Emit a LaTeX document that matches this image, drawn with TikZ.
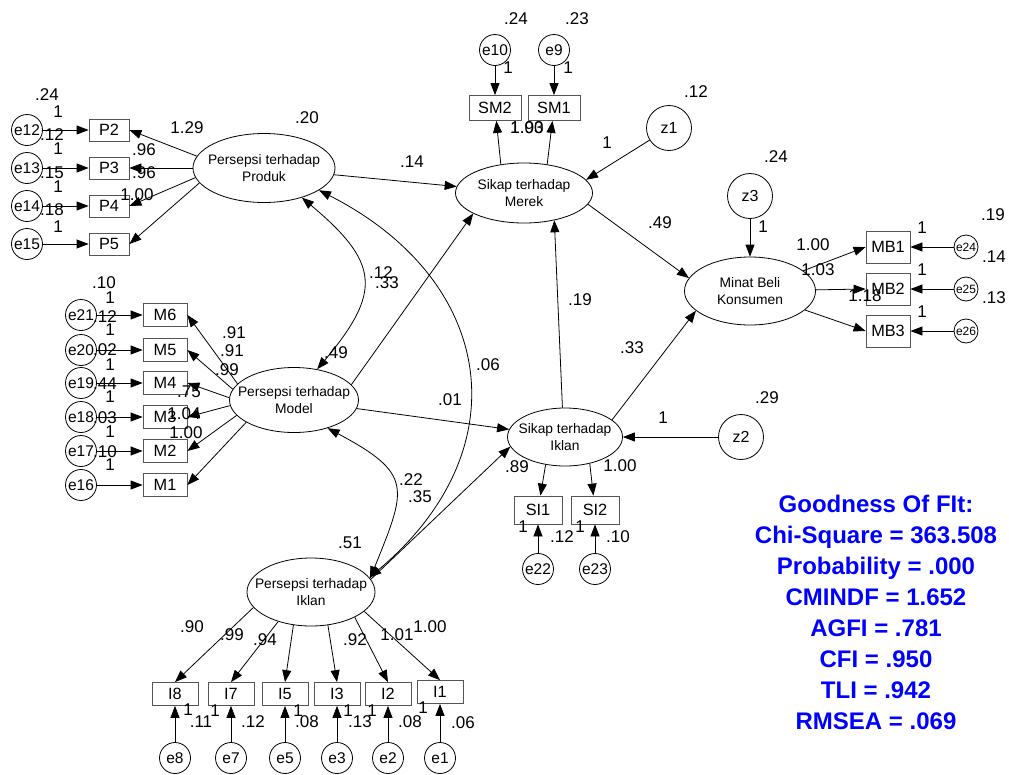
\documentclass[tikz,border=0pt]{standalone}
\usepackage{fontspec}
\setmainfont{Liberation Sans}
\usetikzlibrary{arrows.meta,shapes.geometric}
\definecolor{fitblue}{HTML}{0000FF}
\definecolor{boxgray}{HTML}{555555}
\newcommand{\latname}[2]{\makebox[0pt]{#1}\\\makebox[0pt]{#2}}
\tikzset{
  latent/.style={ellipse,draw,line width=0.8pt,inner sep=0pt,align=center,font=\fontsize{13.8}{17.5}\selectfont},
  indicator/.style={rectangle,draw=boxgray,line width=0.8pt,inner sep=0pt,font=\fontsize{16.3}{18}\selectfont},
  errnode/.style={circle,draw,line width=0.8pt,inner sep=0pt,minimum size=31pt,font=\fontsize{15.5}{17}\selectfont},
  smallerr/.style={errnode,minimum size=24pt,font=\fontsize{12}{14}\selectfont},
  distnode/.style={circle,draw,line width=0.8pt,inner sep=0pt,minimum size=45pt,font=\fontsize{16}{18}\selectfont},
  coef/.style={inner sep=0pt,font=\fontsize{17}{19}\selectfont},
  regpath/.style={-{Triangle[length=12pt,width=9pt]},line width=0.8pt},
  covpath/.style={{Triangle[length=12pt,width=9pt]}-{Triangle[length=12pt,width=9pt]},line width=0.8pt},
  fitline/.style={inner sep=0pt,anchor=base,text=fitblue,font=\fontsize{24}{28}\selectfont\bfseries}
}

\begin{document}
\begin{tikzpicture}[x=1pt,y=-1pt]
  \useasboundingbox (0,0) rectangle (1009,774);
  \fill[white] (0,0) rectangle (1009,774);
  \node[latent,minimum width=142pt,minimum height=69pt] (prod) at (264,168) {\latname{Persepsi terhadap}{Produk}};
  \node[latent,minimum width=129pt,minimum height=65pt] (model) at (294,400) {\latname{Persepsi terhadap}{Model}};
  \node[latent,minimum width=128pt,minimum height=68pt] (piklan) at (311,592) {\latname{Persepsi terhadap}{Iklan}};
  \node[latent,minimum width=137pt,minimum height=60pt] (merek) at (524,193) {\latname{Sikap terhadap}{Merek}};
  \node[latent,minimum width=115pt,minimum height=58pt] (siklan) at (565,437) {\latname{Sikap terhadap}{Iklan}};
  \node[latent,minimum width=131pt,minimum height=68pt] (minat) at (750,291) {\latname{Minat Beli}{Konsumen}};
  \node[distnode] (z1) at (669,128) {z1};
  \node[distnode] (z2) at (741,437) {z2};
  \node[distnode] (z3) at (750,196) {z3};

  \foreach \n/\e/\y/\a in {2/12/130/170,3/13/168/180,4/14/206/188,5/15/244/193}{
    \node[indicator,minimum width=40pt,minimum height=22pt] (p\n) at (109,\y) {P\n};
    \node[errnode] (e\e) at (27,\y) {e\e};
    \draw[regpath] (e\e) -- (p\n);
    \draw[regpath] (prod.\a) -- (p\n.east);
  }
  \foreach \n/\e/\y/\a in {6/21/315/164,5/20/350/170,4/19/383/178,3/18/417/185,2/17/451/195,1/16/485/205}{
    \node[indicator,minimum width=44pt,minimum height=23pt] (m\n) at (165,\y) {M\n};
    \node[errnode] (e\e) at (81,\y) {e\e};
    \draw[regpath] (e\e) -- (m\n);
    \draw[regpath] (model.\a) -- (m\n.east);
  }
  \foreach \n/\x/\y/\a in {8/175/694/195,7/231/694/222,5/285/694/242,3/337/694/-63,2/388/694/-30,1/440/692/-20}{
    \node[indicator,minimum width=46pt,minimum height=23pt] (i\n) at (\x,\y) {I\n};
    \node[errnode] (e\n) at (\x,758) {e\n};
    \draw[regpath] (e\n) -- (i\n);
    \draw[regpath] (piklan.\a) -- (i\n.north);
  }
  \foreach \n/\e/\y in {1/24/247,2/25/289,3/26/331}{
    \node[indicator,minimum width=44pt,minimum height=32pt] (mb\n) at (888,\y) {MB\n};
    \node[smallerr] (e\e) at (966,\y) {e\e};
    \draw[regpath] (e\e) -- (mb\n);
    \draw[regpath] (minat) -- (mb\n.west);
  }
  \node[indicator,minimum width=52pt,minimum height=25pt] (sm2) at (495,108) {SM2};
  \node[indicator,minimum width=52pt,minimum height=25pt] (sm1) at (554,108) {SM1};
  \node[errnode] (e10) at (495,50) {e10};
  \node[errnode] (e9) at (554,50) {e9};
  \node[indicator,minimum width=48pt,minimum height=28pt] (si1) at (538,510) {SI1};
  \node[indicator,minimum width=48pt,minimum height=28pt] (si2) at (595,510) {SI2};
  \node[errnode] (e22) at (538,569) {e22};
  \node[errnode] (e23) at (595,569) {e23};

  \draw[regpath] (e10) -- (sm2);
  \draw[regpath] (e9) -- (sm1);
  \draw[regpath] (merek.129) -- (sm2);
  \draw[regpath] (merek.51) -- (sm1);
  \draw[regpath] (e22) -- (si1);
  \draw[regpath] (e23) -- (si2);
  \draw[regpath] (siklan.-125) -- (si1);
  \draw[regpath] (siklan.-47) -- (si2);
  \draw[regpath] (prod) -- (merek);
  \draw[regpath] (model.15) -- (merek.-158);
  \draw[regpath] (model) -- (siklan);
  \draw[regpath] (piklan.12) -- (siklan.190);
  \draw[regpath] (siklan.95) -- (merek.-42);
  \draw[regpath] (siklan.20) -- (minat.-160);
  \draw[regpath] (merek.-10) -- (minat.168);
  \draw[regpath] (z1) -- (merek.12);
  \draw[regpath] (z2) -- (siklan);
  \draw[regpath] (z3) -- (minat);
  \draw[covpath] (prod.-38) to[out=-40,in=50,looseness=1.5] (model.53);
  \draw[covpath] (prod.-22) to[out=-27,in=40,looseness=1.3] (piklan.14);
  \draw[covpath] (model.-40) to[out=-28,in=68,looseness=1.6] (piklan.13);

  \foreach \x/\y/\lab [count=\k] in {
    47/95/.24, 58/112/1, 52/135/.12, 58/149/1, 52/173/.15, 58/187/1, 52/210/.18, 58/227/1,
    187/128/1.29, 144/150/.96, 144/173/.96, 137/195/1.00, 307/118/.20,
    104/283/.10, 110/298/1, 105/317/.12, 110/330/1, 105/350/.02, 110/365/1, 105/384/.44,
    110/397/1, 105/418/.03, 110/432/1, 105/452/.10, 110/465/1,
    234/333/.91, 232/351/.91, 227/370/.99, 189/392/.75, 184/414/1.04, 186/433/1.00,
    336/353/.49, 381/273/.12, 387/283/.33, 412/162/.14,
    516/19/.24, 577/19/.23, 508/68/1, 568/68/1, 527/128/1.00, 527/128/1.93,
    696/92/.12, 607/143/1, 660/223/.49, 580/300/.19, 632/348/.33,
    450/400/.01, 488/365/.06, 411/480/.22, 420/497/.35,
    776/157/.24, 763/227/1, 813/245/1.00, 818/270/1.03, 865/296/1.18,
    993/215/.19, 922/228/1, 994/257/.14, 922/270/1, 994/298/.13, 922/312/1,
    517/467/.89, 620/466/1.00, 523/527/1, 562/537/.12, 580/527/1, 618/537/.10,
    767/398/.29, 663/418/1,
    350/543/.51, 192/627/.90, 232/635/.99, 265/640/.94, 355/640/.92, 397/635/1.01, 430/627/1.00,
    188/710/1, 201/722/.11, 215/711/1, 253/722/.12, 298/711/1, 307/722/.08,
    348/711/1, 360/722/.13, 372/711/1, 410/722/.08, 423/708/1, 463/723/.06}
    \node[coef] (c\k) at (\x,\y) {\lab};

  \foreach \lab [count=\k] in {Goodness Of FIt:, Chi-Square = 363.508, Probability = .000,
    CMINDF = 1.652, AGFI = .781, CFI = .950, TLI = .942, RMSEA = .069}
    \node[fitline] (fit\k) at (876,{512+31*(\k-1)}) {\lab};
\end{tikzpicture}
\end{document}
